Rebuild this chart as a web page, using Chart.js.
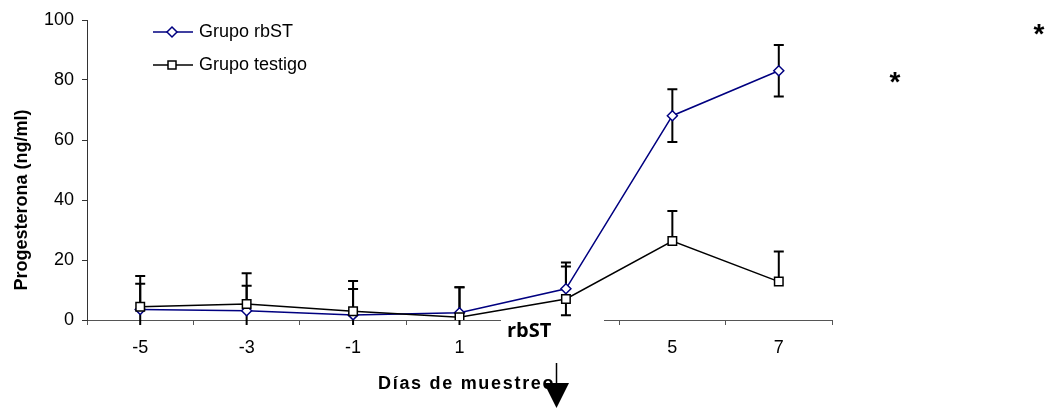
<!DOCTYPE html>
<html>
<head>
<meta charset="utf-8">
<script src="https://cdn.jsdelivr.net/npm/chart.js@4.4.1/dist/chart.umd.min.js"></script>
<style>
  body { margin: 0; background: #fff; }
</style>
</head>
<body>
<canvas id="myChart" width="1045" height="408"></canvas>
<script>
// dias de muestreo (la etiqueta del dia 3 queda tapada por el cuadro "rbST")
const dias = ["-5", "-3", "-1", "1", "", "5", "7"];
const yTicks = [0, 20, 40, 60, 80, 100];

const grupoRbst = [3.5, 3.1, 1.7, 2.4, 10.4, 68.1, 83.1];
const errRbst = [8.6, 8.3, 8.6, 8.5, 8.8, 8.8, 8.6];

const grupoTestigo = [4.4, 5.3, 2.9, 0.9, 7.0, 26.3, 12.8];
const errTestigo = [10.3, 10.3, 10.1, 10.0, 10.8, 10.0, 10.0];

const azul = "#000080";
const fuente = "'Liberation Sans', Arial, sans-serif";

const extras = {
    id: "extras",
    beforeDatasetsDraw(chart) {
        const {ctx, chartArea, scales: {x, y}} = chart;
        ctx.save();
        ctx.beginPath();
        ctx.rect(chartArea.left, 0, chartArea.right - chartArea.left, chartArea.bottom + 5);
        ctx.clip();
        ctx.strokeStyle = "#000";
        ctx.lineWidth = 2;
        const barra = (i, v, e, abajo) => {
            const px = x.getPixelForValue(i);
            const arriba = y.getPixelForValue(v + e);
            const fin = abajo ? y.getPixelForValue(v - e) : y.getPixelForValue(v);
            ctx.beginPath();
            ctx.moveTo(px, arriba); ctx.lineTo(px, fin);
            ctx.moveTo(px - 5, arriba); ctx.lineTo(px + 5, arriba);
            if (abajo) { ctx.moveTo(px - 5, fin); ctx.lineTo(px + 5, fin); }
            ctx.stroke();
        };
        grupoRbst.forEach((v, i) => barra(i, v, errRbst[i], true));
        grupoTestigo.forEach((v, i) => barra(i, v, errTestigo[i], false));
        ctx.restore();
    },
    afterDraw(chart) {
        const ctx = chart.ctx;
        ctx.save();

        // leyenda
        ctx.lineWidth = 1.5;
        ctx.strokeStyle = azul;
        ctx.beginPath(); ctx.moveTo(153, 32); ctx.lineTo(193, 32); ctx.stroke();
        ctx.fillStyle = "#fff";
        ctx.beginPath();
        ctx.moveTo(172, 27); ctx.lineTo(177, 32); ctx.lineTo(172, 37); ctx.lineTo(167, 32);
        ctx.closePath(); ctx.fill(); ctx.stroke();

        ctx.strokeStyle = "#000";
        ctx.beginPath(); ctx.moveTo(153, 65); ctx.lineTo(193, 65); ctx.stroke();
        ctx.fillRect(168, 61, 8, 8); ctx.strokeRect(168, 61, 8, 8);

        ctx.fillStyle = "#000";
        ctx.font = "18px " + fuente;
        ctx.textAlign = "left";
        ctx.textBaseline = "alphabetic";
        ctx.fillText("Grupo rbST", 199, 37);
        ctx.fillText("Grupo testigo", 199, 70);

        // titulo eje y
        ctx.save();
        ctx.font = "bold 18px " + fuente;
        ctx.translate(27, 200);
        ctx.rotate(-Math.PI / 2);
        ctx.textAlign = "center";
        ctx.fillText("Progesterona (ng/ml)", 0, 0);
        ctx.restore();

        // titulo eje x
        ctx.font = "bold 18px " + fuente;
        ctx.letterSpacing = "1.7px";
        ctx.fillText("Días de muestreo", 378, 389);
        ctx.letterSpacing = "0px";

        // cuadro rbST sobre el eje
        ctx.fillStyle = "#fff";
        ctx.fillRect(501, 318, 103, 28);
        ctx.fillStyle = "#000";
        ctx.font = "bold 20px 'Open Sans', sans-serif";
        ctx.fillText("rbST", 507, 337);

        // flecha
        ctx.strokeStyle = "#000";
        ctx.lineWidth = 1.5;
        ctx.beginPath(); ctx.moveTo(556.5, 363); ctx.lineTo(556.5, 384); ctx.stroke();
        ctx.beginPath();
        ctx.moveTo(544, 383); ctx.lineTo(569, 383); ctx.lineTo(556.5, 408);
        ctx.closePath(); ctx.fill();

        // asteriscos
        ctx.font = "bold 28px " + fuente;
        ctx.textAlign = "center";
        ctx.fillText("*", 1039, 43);
        ctx.fillText("*", 895, 91);

        ctx.restore();
    }
};

const myChart = new Chart(document.getElementById("myChart"), {
    type: "line",
    data: {
        labels: dias,
        datasets: [
            {
                label: "Grupo rbST", data: grupoRbst,
                borderColor: azul, borderWidth: 1.5, tension: 0,
                pointStyle: "rectRot", pointRadius: 5,
                pointBackgroundColor: "#fff", pointBorderColor: azul, pointBorderWidth: 1.5,
                order: 1
            },
            {
                label: "Grupo testigo", data: grupoTestigo,
                borderColor: "#000", borderWidth: 1.5, tension: 0,
                pointStyle: "rect", pointRadius: 6,
                pointBackgroundColor: "#fff", pointBorderColor: "#000", pointBorderWidth: 1.5,
                order: 0
            }
        ]
    },
    options: {
        responsive: false,
        animation: false,
        devicePixelRatio: 1,
        layout: {padding: {top: 20, right: 213, left: 0, bottom: 0}},
        plugins: {legend: {display: false}, tooltip: {enabled: false}},
        scales: {
            x: {
                offset: true,
                grid: {offset: true, drawOnChartArea: false, tickLength: 5, color: "#555"},
                border: {color: "#555", width: 1},
                ticks: {color: "#000", font: {size: 18, family: fuente}, padding: 12, maxRotation: 0},
                afterFit(scale) { scale.height = 88; }
            },
            y: {
                min: 0, max: 100,
                afterBuildTicks(scale) { scale.ticks = yTicks.map(v => ({value: v})); },
                grid: {drawOnChartArea: false, tickLength: 5, color: "#333"},
                border: {color: "#333", width: 1},
                ticks: {color: "#000", font: {size: 18, family: fuente}, padding: 8},
                afterFit(scale) { scale.width = 87; }
            }
        }
    },
    plugins: [extras]
});
</script>
</body>
</html>
